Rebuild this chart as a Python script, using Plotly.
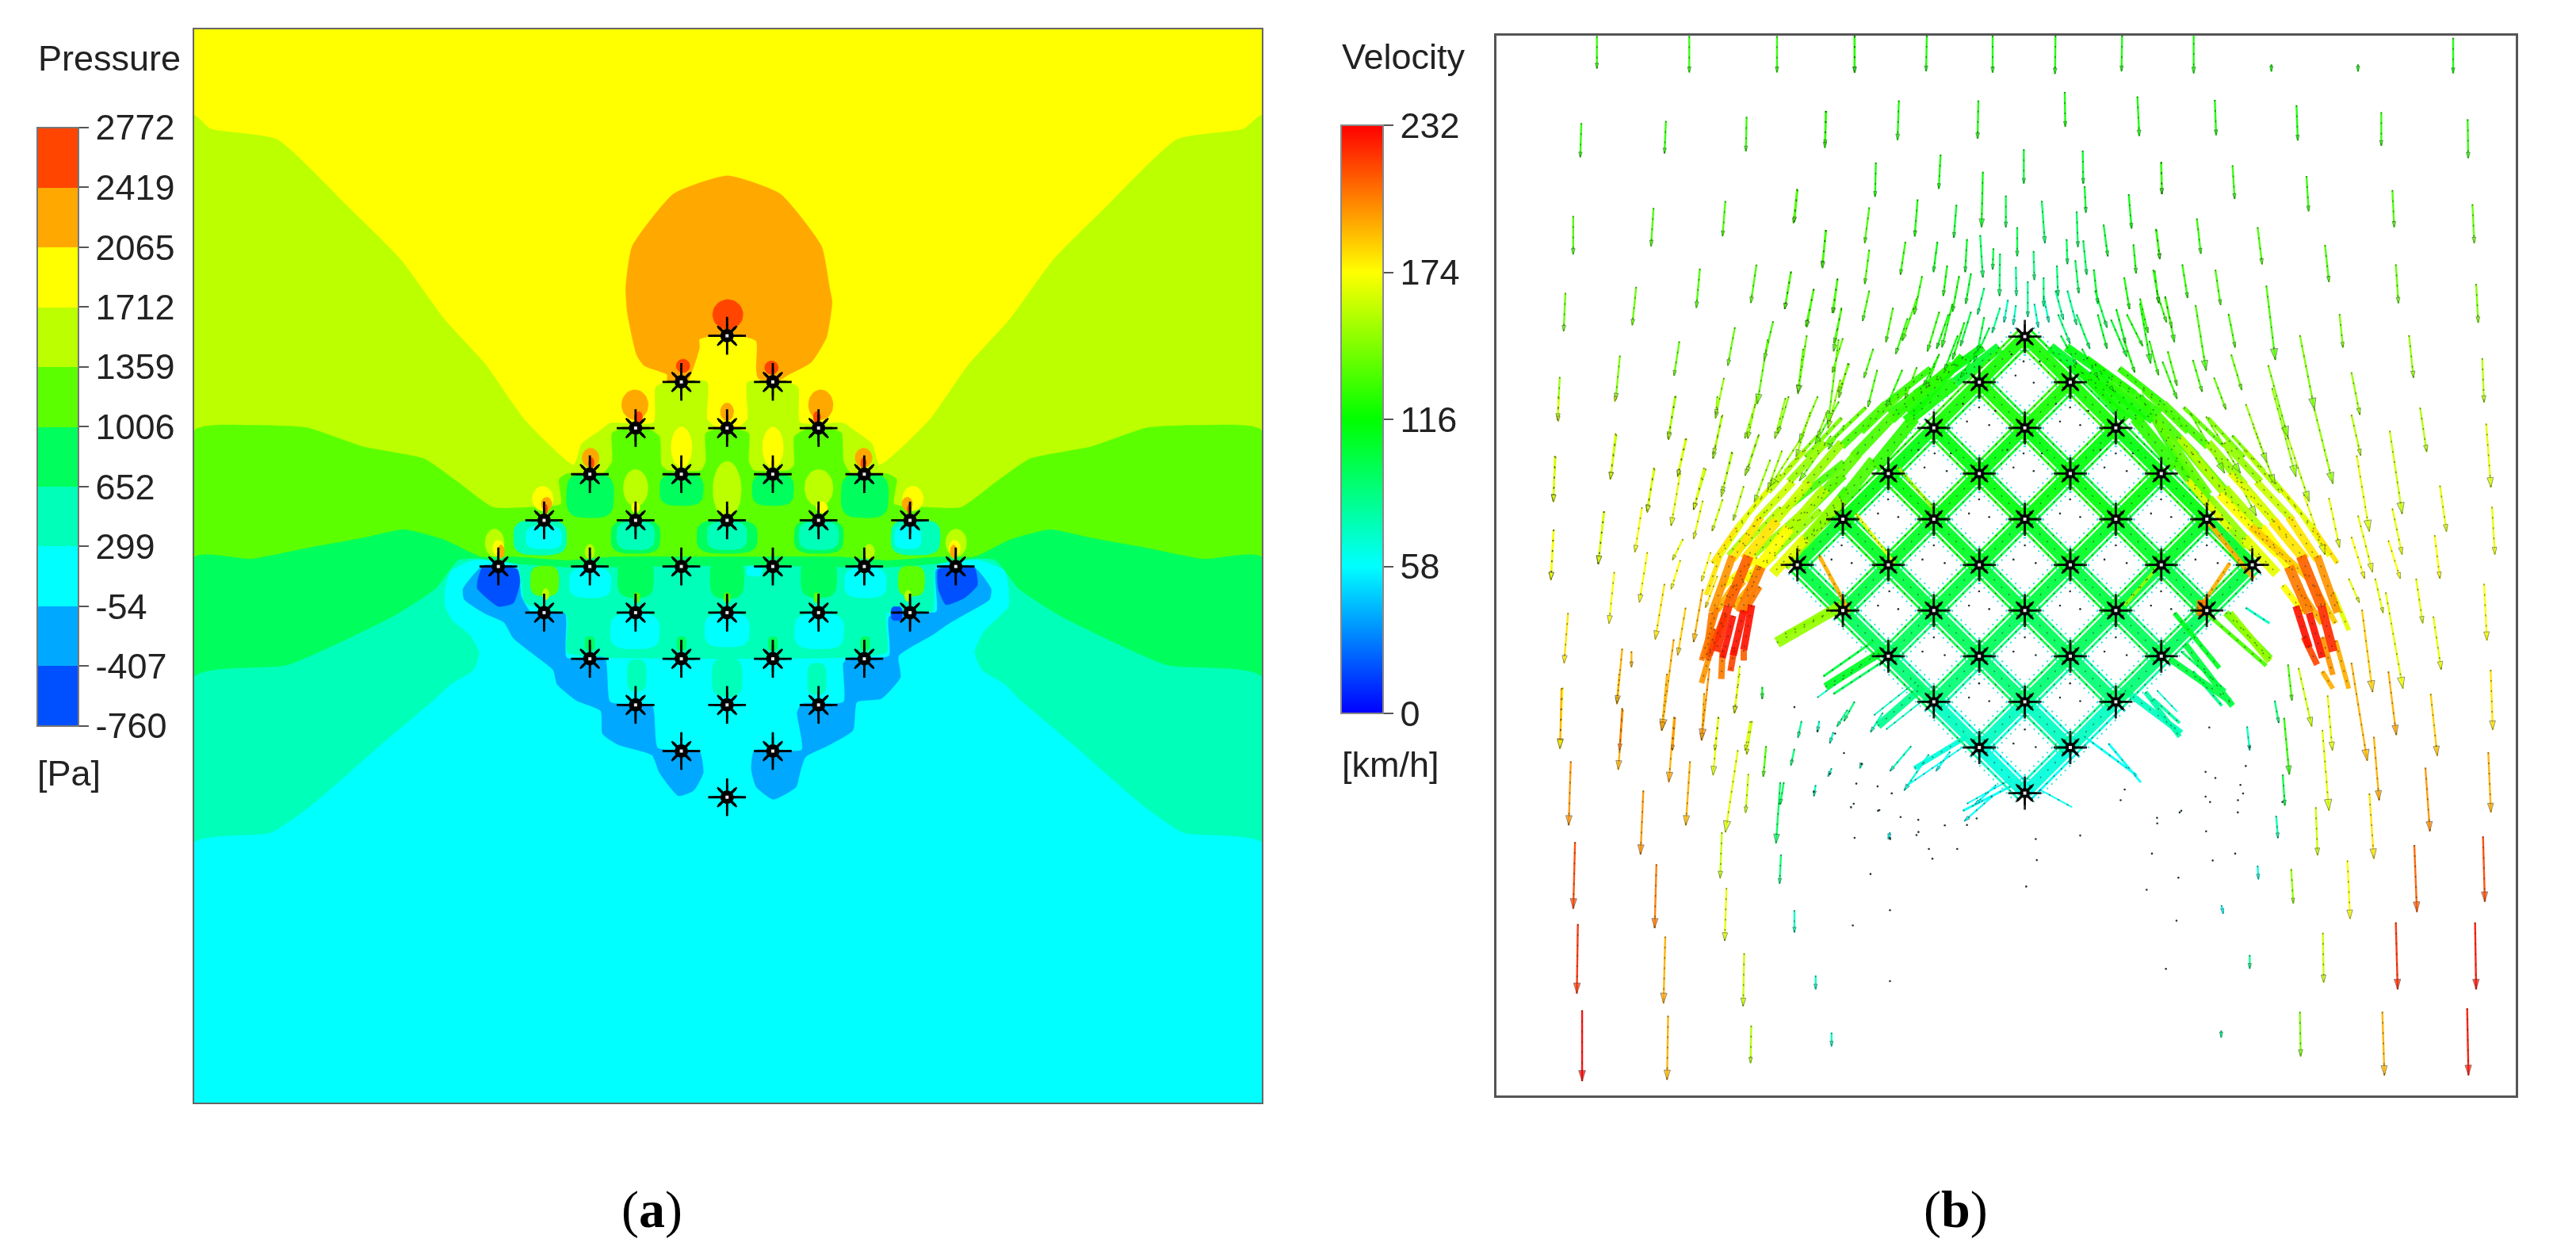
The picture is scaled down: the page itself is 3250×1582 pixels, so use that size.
import math
import plotly.graph_objects as go
from plotly.colors import sample_colorscale

W, H = 3250, 1582

# ---- panel (a): legend
PRESSURE_TICKS = [-760, -407, -54, 299, 652, 1006, 1359, 1712, 2065, 2419, 2772]
BLUE, SKY, CYAN, TEAL, SPRING = "#0050FF", "#00A8FF", "#00FFFF", "#00FFB9", "#00FF5C"
GREEN, LIME, YELLOW, ORANGE, RED = "#5CFF00", "#BBFF00", "#FFFF00", "#FFA800", "#FF4500"
PRESSURE_BANDS = [BLUE, SKY, CYAN, TEAL, SPRING, GREEN, LIME, YELLOW, ORANGE, RED]

# ---- panel (a): contour outlines, in crop units
FRAME_U = [-637, 2178]
FRAME_V = [-701, 2332]
LIME_EDGE = [(-637,-458),(-595,-420),(-419,-390),(-233,-201),(-94,-52),(23,119),(130,245),(236,405),(364,530),(385,470),
             (437,430),(460,412),(575,410),(580,310),(610,296),(715,296),(715,400),(740,425),(796,425),(822,400),(822,296),
             (925,296),(955,310),(960,410),(1075,412),(1100,430),(1150,470),(1170,530),(1300,405),(1406,245),(1513,119),
             (1630,-52),(1769,-201),(1955,-390),(2131,-420),(2178,-458),(2178,2332),(-637,2332)]
GREEN_EDGE = [(-637,433),(-488,418),(-339,425),(-190,479),(-30,513),(55,576),(151,650),(243,650),(330,640),(325,570),
              (345,555),(440,555),(465,520),(465,440),(490,428),(565,430),(590,450),(595,530),(610,545),(700,545),(712,520),
              (712,440),(740,430),(796,430),(825,440),(825,520),(838,545),(930,545),(945,530),(945,450),(975,430),(1050,430),
              (1070,440),(1075,520),(1095,555),(1190,555),(1215,570),(1208,640),(1295,650),(1385,650),(1480,576),(1566,513),
              (1726,479),(1875,425),(2024,418),(2178,433),(2178,2332),(-637,2332)]
SPRING_EDGE = [(-637,791),(-488,796),(-339,765),(-190,736),(-83,713),(23,742),(120,790),(205,790),(345,800),(470,790),
               (800,790),(1060,790),(1190,800),(1330,790),(1420,790),(1513,742),(1619,713),(1726,736),(1875,765),(2024,796),
               (2178,791),(2178,2332),(-637,2332)]
TEAL_EDGE = [(-637,1129),(-391,1096),(-110,957),(0,880),(60,800),(110,795),(215,810),(345,820),(800,815),(1190,820),
             (1320,810),(1426,795),(1476,800),(1536,880),(1646,957),(1927,1096),(2178,1129),(2178,2332),(-637,2332)]
CYAN_EDGE = [(-637,1598),(-435,1570),(-326,1491),(-153,1329),(0,1190),(40,1150),(100,1110),(115,1060),(90,1010),(45,970),
             (25,930),(25,880),(40,830),(100,800),(215,815),(235,920),(345,960),(345,1060),(445,1075),(1090,1075),(1190,1060),
             (1190,950),(1310,945),(1320,815),(1435,800),(1500,830),(1510,880),(1510,930),(1445,1000),(1420,1060),(1440,1110),
             (1500,1150),(1536,1190),(1689,1329),(1862,1491),(1971,1570),(2178,1598),(2178,2332),(-637,2332)]
SKY_LEFT = [(72,880),(75,910),(130,950),(180,975),(205,1020),(270,1075),(310,1110),(320,1150),(370,1195),(435,1225),(440,1290),
            (480,1320),(570,1350),(590,1400),(640,1465),(680,1450),(705,1400),(695,1340),(585,1330),(570,1210),(460,1200),
            (445,1075),(345,1075),(340,950),(250,945),(225,900),(215,825),(125,815)]
SKY_RIGHT = [(1464,880),(1460,910),(1390,955),(1350,980),(1310,1010),(1220,1070),(1225,1130),(1175,1190),(1110,1200),(1100,1280),
             (1040,1320),(975,1355),(960,1400),(950,1440),(890,1475),(845,1440),(832,1390),(840,1337),(965,1335),(953,1230),
             (965,1205),(1075,1200),(1075,1090),(1090,1075),(1195,1070),(1195,960),(1250,945),(1320,945),(1320,825),(1420,820)]
BLUE_LEFT = [(110,860),(125,815),(215,825),(222,860),(205,920),(165,930),(110,880)]
BLUE_RIGHT = [(1325,825),(1420,820),(1428,870),(1395,905),(1345,925),(1325,880)]
ORANGE_EDGE = [(769,-287),(627,-236),(518,-88),(501,28),(505,100),(530,220),(550,250),(610,275),(610,300),(660,300),(695,200),
               (695,175),(730,165),(805,165),(845,180),(845,260),(850,285),(890,300),(930,275),(990,240),(1030,170),(1045,70),
               (1038,28),(1017,-88),(908,-236)]

# patches: centre u, centre v, width, height, colour
PATCHES = [
    (648,480,55,115,YELLOW),(889,480,55,115,YELLOW),(527,595,65,105,LIME),(1010,595,75,105,LIME),(768,600,75,160,LIME),
    (407,617,125,125,SPRING),(648,600,115,90,SPRING),(889,600,110,90,SPRING),(1131,617,125,125,SPRING),
    (527,733,130,95,SPRING),(768,733,160,95,SPRING),(1010,733,130,95,SPRING),
    (275,735,140,100,TEAL),(1265,735,130,100,TEAL),(527,730,100,80,TEAL),(768,730,105,80,TEAL),(1010,730,105,80,TEAL),
    (285,735,95,65,CYAN),(1245,735,70,65,CYAN),(407,863,110,85,CYAN),(1133,863,110,85,CYAN),(840,830,40,30,CYAN),
    (287,858,75,85,GREEN),(1254,858,70,85,GREEN),(527,850,95,110,SPRING),(768,850,90,115,SPRING),(1010,850,95,110,SPRING),
    (525,1000,130,100,CYAN),(768,997,118,95,CYAN),(1011,1000,130,100,CYAN),
    (768,1130,80,110,TEAL),(530,1125,50,90,TEAL),(1005,1135,50,90,TEAL),
    (1215,950,30,40,BLUE),
    (770,105,80,85,RED),(652,250,36,38,RED),(885,255,36,38,RED),
    (525,360,70,85,ORANGE),(1015,360,65,85,ORANGE),(535,395,20,32,RED),(1005,395,20,32,RED),
    (768,380,35,50,ORANGE),(408,510,45,55,ORANGE),(1128,510,45,55,ORANGE),(410,525,15,32,RED),(1128,525,15,32,RED),
    (282,625,55,70,YELLOW),(1258,625,55,70,YELLOW),(292,640,28,38,ORANGE),(1243,640,28,38,ORANGE),(290,655,10,28,RED),(1248,655,10,28,RED),
    (155,750,50,78,LIME),(1372,750,55,78,LIME),(165,765,30,45,YELLOW),(1368,765,30,45,YELLOW),(172,775,18,38,ORANGE),(1365,775,18,38,ORANGE),
    (406,775,25,42,LIME),(1143,775,28,42,LIME),(527,650,22,30,YELLOW),(1018,650,30,32,YELLOW),
    (290,895,18,32,LIME),(1245,900,18,32,LIME),(530,905,16,28,GREEN),(768,905,16,28,GREEN),(1005,905,16,28,GREEN),
    (406,1035,25,40,SPRING),(648,1035,25,40,SPRING),(889,1035,25,40,SPRING),(1132,1035,25,40,SPRING),
]

# cylinders: lattice column and row of each one
CYL_COL = [0, -1,1, -2,0,2, -3,-1,1,3, -4,-2,0,2,4, -5,-3,-1,1,3,5, -4,-2,0,2,4, -3,-1,1,3, -2,0,2, -1,1, 0]
CYL_ROW = [0, 1,1, 2,2,2, 3,3,3,3, 4,4,4,4,4, 5,5,5,5,5,5, 6,6,6,6,6, 7,7,7,7, 8,8,8, 9,9, 10]

# ---- panel (b): legend
SPEED_TICKS = [0, 58, 116, 174, 232]
JET = [[0, "#0000FF"], [0.25, "#00FFFF"], [0.5, "#00FF00"], [0.75, "#FFFF00"], [1, "#FF0000"]]

TOP_LEFT = [(817,50,817,130,125),(1078,50,1078,140,125),(1326,50,1326,140,125),(1545,50,1545,140,125),
    (773,265,770,350,125),(1012,260,1008,340,125),(1240,250,1238,335,125),(1465,235,1462,320,125),
    (750,495,750,590,130),(977,475,970,570,130),(1180,458,1172,545,130),(1384,430,1375,510,130),
    (728,685,723,780,140),(928,670,917,765,140),(1108,625,1098,722,135),(1268,615,1252,710,135),(1366,632,1348,725,135),(1465,530,1453,620,130),
    (712,893,706,1000,150),(882,840,870,950,145),(1050,805,1035,890,140),(1207,770,1187,865,140),(1315,755,1290,850,135),(1430,675,1410,770,132),
    (1497,650,1485,735,130),(1508,725,1487,810,130),(700,1090,693,1200,155),(872,1035,855,1145,150),(1040,940,1018,1045,150),(1176,895,1152,995,150),
    (1300,800,1270,960,140),(1410,790,1385,935,140),(1500,800,1470,1010,140),(1170,990,1145,1095,150),(1070,1045,1045,1140,155),(1265,960,1235,1045,150),
    (1350,945,1320,1045,148),(1470,975,1440,1040,145),(695,1270,687,1395,160),(838,1225,820,1355,155),(980,1120,958,1225,155),(1125,1120,1090,1220,158),
    (1200,1080,1170,1180,155),(1275,1035,1240,1130,152),(1340,1075,1300,1170,150),(1420,980,1380,1090,150),(1505,900,1470,1020,148),(1530,860,1500,930,145)]
TOP_CENTRE = [(270,45,270,185,120),(543,45,540,180,118),(792,45,792,185,118),(1030,45,1028,190,120),(1282,45,1280,180,122),
    (160,330,157,470,125),(437,290,432,440,122),(738,290,735,435,118),(1065,258,1067,390,118),(1340,275,1347,425,120),
    (350,525,347,655,122),(595,495,588,625,118),(755,560,750,770,112),(910,475,910,605,105),(1133,480,1135,605,110),(1430,525,1433,645,128),
    (52,625,38,755,130),(508,665,497,805,118),(655,685,645,810,110),(842,650,842,770,100),(978,670,990,830,95),(1140,615,1145,715,105),(1307,645,1318,775,115),(1110,710,1115,845,95),
    (160,780,148,925,128),(325,695,308,830,130),(462,825,443,950,125),(583,825,568,940,115),(695,815,688,940,105),(745,800,755,960,95),(795,850,792,930,100),(885,770,885,880,100),
    (947,860,950,970,90),(1072,815,1075,910,95),(1135,820,1148,950,95),(1212,760,1228,880,110),(1325,835,1335,945,120),(1412,780,1425,890,125),
    (28,940,5,1080,135),(205,965,185,1095,130),(325,855,308,985,130),(115,1005,85,1145,135),(220,1075,190,1240,135),(325,1010,300,1125,130),(415,1075,388,1205,130),(525,955,495,1100,128),
    (620,915,605,1030,118),(665,955,640,1090,118),(710,945,690,1060,110),(820,870,818,1030,95),(880,920,882,1030,85),(925,975,925,1110,85),(985,960,985,1070,88),(1035,915,1040,1030,92),
    (1105,895,1118,1020,95),(1175,930,1190,1060,105),(1290,960,1310,1080,118),(1405,935,1420,1055,122),(1445,1035,1470,1150,130),
    (75,1230,55,1395,140),(225,1190,185,1320,138),(340,1230,305,1340,135),(245,1285,210,1415,140),(355,1310,320,1450,135),(505,1040,450,1200,130),(470,1115,425,1250,128),(590,1090,545,1240,125),
    (640,1060,600,1225,122),(505,1300,460,1420,130),(585,1260,540,1380,128),(685,1130,640,1270,118),(760,1110,735,1240,100),(1190,1100,1225,1230,110),(1260,1080,1295,1210,115),
    (1350,1040,1380,1170,125),(1415,1020,1450,1130,128),(1455,1240,1490,1370,132),(1385,1200,1420,1330,128),(1290,1200,1330,1320,122),
    (880,1065,870,1140,70),(850,1045,835,1130,75),(820,1075,790,1170,85),(760,1000,735,1100,90),(710,1090,670,1220,100),(660,1180,610,1310,115),(780,1150,720,1280,100),(590,1250,530,1370,120),
    (450,1310,390,1450,125),(730,1240,670,1340,115),(625,1100,580,1230,118),(950,1060,965,1150,70),(985,1030,1005,1130,75),(1030,1010,1060,1120,82),(1075,1010,1110,1140,85),(1110,1100,1160,1230,95),
    (1050,1180,1110,1290,100),(1180,1010,1225,1150,100),(1240,1120,1300,1260,110),(1300,1100,1360,1220,120),(1130,1230,1190,1340,110),(1180,1290,1250,1390,118),(1040,1100,1085,1210,88)]
TOP_CENTRE_BANDS = [(680,1260,480,1480,120,12),(640,1290,410,1500,125,10),(1160,1320,1400,1500,120,12),(1100,1290,1300,1500,118,10)]
TOP_RIGHT = [(203,25,203,140,120),(497,115,497,135,118),(825,115,825,135,118),(1185,40,1185,140,118),
    (283,215,288,315,120),(592,230,597,330,122),(913,250,913,345,125),(1240,270,1242,380,128),
    (80,390,82,480,125),(350,400,358,495,125),(630,430,638,530,128),(955,470,962,575,135),(1258,510,1265,620,140),
    (60,580,75,665,125),(215,550,230,650,125),(445,575,462,680,130),(700,625,715,730,135),(968,680,978,790,140),(1272,735,1280,845,145),
    (50,695,72,790,125),(160,680,180,775,125),(285,695,305,795,130),(478,740,512,950,135),(755,820,768,915,145),(1018,880,1035,1000,150),(1295,945,1302,1070,155),
    (95,770,130,900,125),(210,795,250,980,130),(335,820,360,915,130),(605,880,660,1090,142),(800,985,832,1105,150),(1060,1085,1085,1210,155),(1310,1130,1328,1310,165),
    (0,790,40,960,120),(85,955,140,1060,125),(200,950,235,1040,135),(345,935,385,1035,140),(485,965,560,1170,145),(800,1105,835,1220,155),(945,1150,992,1385,160),(1135,1305,1160,1435,165),(1332,1365,1343,1500,170),
    (280,1000,325,1090,140),(400,1075,480,1240,148),(660,1090,730,1300,150),(820,1220,868,1435,165),(955,1370,992,1500,170),(1115,1445,1135,1568,172),
    (500,1030,590,1280,150),(560,1170,640,1350,155),(715,1340,755,1480,165),(825,1390,880,1550,170),(620,1330,700,1500,168),(800,1450,850,1568,172),(940,1460,985,1568,172),
    (330,1230,440,1390,150),(430,1140,510,1300,150),(250,1110,380,1270,142),(190,1100,320,1270,140)]
TOP_RIGHT_BANDS = [(0,1050,180,1280,125,8),(60,1120,260,1330,140,10),(150,1170,400,1400,155,10),(180,1290,340,1430,165,8),
    (300,1330,520,1500,175,10),(420,1420,640,1568,185,9),(250,1400,430,1568,190,6),(340,1270,560,1450,170,7)]
LOW_RIGHT = [(790,0,830,70,165),(890,0,920,100,165),(930,40,995,320,170),(840,90,880,330,185),(800,245,860,530,190),(940,270,970,455,195),(885,460,905,645,195),
    (1100,335,1125,515,188),(1045,0,1070,130,165),(1110,110,1140,265,170),(1302,15,1313,180,172),(1327,265,1335,440,180),(1318,505,1328,680,192),(1080,550,1097,735,200),
    (868,625,885,815,180),(1038,775,1048,970,212),(1298,750,1305,940,215),(785,820,795,990,172),(665,665,672,805,160),(690,440,715,675,165),(710,340,728,500,170),(572,845,580,945,150),
    (692,1030,695,1175,160),(968,1000,975,1195,222),(1268,1000,1272,1195,228),(605,1260,608,1390,145),(917,1260,925,1445,190),(1238,1250,1243,1445,226),(415,1095,415,1135,85),(307,1315,307,1335,85),
    (545,405,565,570,125),(510,355,525,420,90),(540,570,548,660,100),(515,690,522,755,80),(560,250,575,355,135),(600,260,650,430,160),(405,430,415,500,70),(445,835,448,875,65),(308,950,315,975,60)]
LOW_RIGHT_BANDS = [(540,20,620,100,175,8),(600,30,690,130,190,8),(660,20,740,130,185,7),(730,40,790,150,170,6),(590,80,640,200,225,9),(640,100,690,230,228,9),(620,170,670,250,215,8),
    (690,170,730,280,200,7),(690,270,730,320,190,6),(740,180,790,320,190,6),(130,100,300,260,110,6),(340,100,490,240,150,9),(400,85,490,130,70,3),(170,190,350,370,100,8),(200,270,310,370,85,4),
    (20,330,150,460,80,6),(50,350,150,420,80,4),(215,85,255,85,205,20)]
MID_LEFT = [(258,0,258,95,165),(475,0,472,20,165),(245,225,240,400,170),(475,140,455,315,168),(240,505,230,695,172),(430,435,410,635,170),(620,270,595,440,165),(740,160,710,300,165),(880,70,845,220,155),
    (700,0,675,165,155),(1010,0,975,160,150),(860,0,855,70,150),(1015,150,965,300,150),(915,210,875,380,155),(810,270,770,430,165),(575,420,548,590,172),(720,290,685,490,165),(595,590,565,780,172),
    (470,665,450,860,172),(805,395,770,540,165),(880,390,840,510,160),(960,340,920,470,155),(1060,240,1000,400,150),(1130,0,1090,140,145),(1240,0,1170,170,142),(1320,20,1230,180,135),(1170,170,1060,340,148),
    (1290,150,1170,320,140),(1340,110,1280,200,130),(730,540,690,620,170),(720,620,685,730,172),(660,710,625,920,178),(740,800,710,980,185),(805,730,770,930,190),(835,590,800,700,175),(860,680,815,800,180),
    (295,820,280,1010,178),(500,955,480,1165,190),(535,965,535,1025,190),(270,1105,265,1330,195),(695,920,650,1265,195),(830,1030,800,1300,198),(500,1180,490,1340,205),(865,1215,850,1340,170),(700,1215,690,1340,200),
    (945,1020,925,1200,165),(985,1230,965,1340,165),(1030,1100,1030,1145,110)]
MID_LEFT_BANDS = [(1080,600,970,700,170,8),(1050,620,920,720,172,8),(1010,610,880,720,175,8),(1020,720,960,820,205,8),(1000,700,920,800,195,8),(960,700,880,790,190,8),(920,720,860,810,190,8),
    (990,790,960,960,228,9),(960,810,920,980,228,9),(920,830,880,990,225,8),(890,820,830,980,215,8),(860,800,800,1000,205,7),(960,960,960,1000,210,8),(925,950,910,1040,215,8),(880,960,875,1070,205,8),
    (830,980,800,1085,200,7),(850,880,825,1000,210,7),(1340,300,1120,520,135,9),(1340,250,1100,440,135,9),(1350,350,1180,560,128,9),(1250,430,1070,600,150,8),(1180,440,1000,600,150,8),
    (1100,420,940,590,155,6),(1050,430,900,600,158,5),(1220,520,1120,650,150,8),(1330,430,1210,530,115,7)]
LOW_LEFT = [(205,50,197,270,172),(365,0,358,105,185),(375,130,362,345,192),(500,0,485,205,195),(605,70,598,240,195),(520,155,505,390,195),(645,155,630,365,165),(740,170,725,290,160),(705,0,690,140,170),
    (565,315,553,545,190),(228,315,222,545,198),(433,420,425,650,200),(700,275,665,570,165),(780,260,772,370,130),(730,360,722,500,160),(820,390,808,610,95),(655,570,650,735,160),(240,605,235,845,215),
    (470,685,465,915,205),(668,770,663,960,165),(822,650,818,755,90),(860,850,860,930,75),(248,900,245,1150,220),(495,945,490,1185,195),(718,1005,715,1195,160),(920,1085,920,1135,70),(260,1210,260,1465,232),
    (503,1230,500,1460,190),(738,1265,736,1400,155),(965,1290,965,1340,70),(860,270,850,330,90),(830,390,820,470,95),(965,340,955,370,70),(1130,570,1125,595,60),(920,400,915,440,75),(1050,320,1045,340,75),
    (970,210,960,250,75),(880,170,870,230,85),(930,170,925,210,75),(1010,130,980,190,85),(1110,140,1075,210,75),(1240,290,1170,420,65),(1300,280,1260,350,62),(1190,260,1130,350,70),(1420,440,1340,530,58),(1430,400,1370,470,58),(1030,100,1000,170,90)]
# streak bundles inside and below the array
CORE_BANDS = [(300,1090,440,990,110,10),(295,1060,420,960,100,3),(320,1110,440,1020,95,3),(280,1120,400,1020,75,2),(430,1200,540,1090,85,10),(420,1170,530,1070,75,2),(450,1210,550,1120,75,2),
    (520,1320,650,1230,65,6),(500,1370,640,1260,60,2),(640,1440,760,1370,58,3),(650,1420,760,1350,58,2),(1150,1010,1300,1130,100,8),(1180,990,1290,1100,95,3),(1040,1100,1180,1220,72,8),
    (1000,1250,1080,1360,60,3),(940,1230,1070,1340,60,3),(830,1380,910,1430,58,2),(1120,1100,1170,1160,68,2),(180,965,340,860,150,14),(200,940,310,880,145,6),(1290,880,1400,1010,140,9),
    (1240,880,1390,1030,130,5),(285,720,360,880,190,5),(1300,740,1230,860,195,5),(375,600,470,740,165,4),(480,470,570,590,150,4),(1130,740,1040,860,150,4)]
# the two shoulders over the array: stacked streaks, nearest the array first
SHOULDER_LEFT = [(730,130,620,230,110,13),(620,230,500,340,118,15),(520,330,420,470,125,15),(420,450,330,580,135,15),(340,560,240,690,150,15),(250,670,170,770,165,13),
    (690,130,580,220,115,11),(580,220,460,320,125,13),(470,320,370,440,132,13),(380,430,290,550,140,13),(300,530,200,660,155,14),(210,640,130,760,175,14),(140,750,90,880,205,13),
    (560,190,450,290,125,8),(450,290,340,410,135,10),(340,400,250,520,148,11),(260,510,170,630,160,11),(180,620,100,730,178,13),(110,720,60,860,210,13),(60,860,30,990,222,11),
    (400,300,300,410,138,5),(300,400,210,510,150,9),(220,510,130,620,162,9),(140,610,70,730,178,10),(70,720,20,880,200,10),(20,880,5,1010,205,9),
    (280,380,200,480,145,4),(190,490,110,600,155,6),(110,600,40,720,170,6),(40,720,5,830,180,6),
    (640,160,520,260,122,7),(500,250,390,370,130,7),(340,330,250,440,142,5),(250,420,160,540,155,6),(160,530,80,640,165,6),(80,640,20,740,178,6)]
SHOULDER_RIGHT = [(856,130,966,230,110,13),(966,230,1086,340,118,15),(1066,330,1166,470,125,15),(1166,450,1256,580,135,15),(1246,560,1346,690,150,15),(1336,670,1416,770,165,13),
    (896,130,1006,220,115,11),(1006,220,1126,320,125,13),(1116,320,1216,440,132,13),(1206,430,1296,550,140,13),(1286,530,1386,660,155,14),(1376,640,1456,760,175,14),(1446,750,1496,880,205,13),
    (1026,190,1136,290,125,8),(1136,290,1246,410,135,10),(1246,400,1336,520,148,11),(1326,510,1416,630,160,11),(1406,620,1486,730,178,13),(1476,720,1526,860,210,13),(1526,860,1556,990,222,11),
    (1186,300,1286,410,138,5),(1286,400,1376,510,150,9),(1366,510,1456,620,162,9),(1446,610,1516,730,178,10),(1516,720,1566,880,200,10),
    (1306,380,1386,480,145,4),(1396,490,1476,600,155,6),(1476,600,1546,720,170,6),
    (946,160,1066,260,122,7),(1086,250,1196,370,130,7),(1246,330,1336,440,142,5),(1336,420,1426,540,155,6),(1426,530,1506,640,165,6),(1506,640,1566,740,178,6)]
# speed along the lattice diagonals, one value per row of cylinders
LINK_SPEED = [120, 118, 115, 112, 108, 104, 96, 88, 75, 68]
CORE_DOTS = [(790,170),(770,210),(815,230),(760,150),(830,170),(680,300),(650,340),(705,350),(640,290),(720,310),(905,300),(880,340),(930,350),(870,290),(950,310),(570,430),(545,470),(600,480),(530,420),(610,430),
    (790,430),(765,470),(815,480),(750,420),(835,430),(1018,430),(990,470),(1045,480),(980,420),(1060,430),(455,560),(430,600),(480,610),(680,560),(655,600),(705,610),(905,560),(880,600),(930,610),(1130,560),(1105,600),(1155,610),
    (340,690),(315,730),(365,740),(568,690),(540,730),(595,740),(793,690),(765,730),(820,740),(1018,690),(990,730),(1045,740),(1243,690),(1215,730),(1270,740),(458,820),(430,860),(480,870),(680,820),(655,860),(705,870),
    (905,820),(880,860),(930,870),(1130,820),(1105,860),(1155,870),(568,950),(540,990),(595,1000),(793,950),(765,990),(820,1000),(1018,950),(990,990),(1045,1000),(680,1080),(655,1120),(705,1130),(905,1080),(880,1120),(930,1130),
    (793,1210),(765,1250),(820,1260),(1040,1380),(1120,1460),(1180,1440),(1240,1400),(1320,1410),(1030,1410),(930,1510),(820,1520),(650,1480),(530,1500),(370,1420),(430,1440),(460,1520),(1240,1330),(1430,1415)]
LOW_LEFT_DOTS = [(1030,590),(1130,590),(1205,580),(1240,630),(1320,630),(1250,665),(1515,765),(1545,670),(1130,850),(1025,905),(1075,720),(1130,1105),(1020,480),(1100,490),(1160,515),(1210,525),(1285,545),(1375,520),
    (1135,430),(1095,405),(1035,395),(915,425),(960,360),(1050,325),(1000,285),(975,215),(925,205),(860,120)]
LOW_RIGHT_DOTS = [(262,433),(285,580),(265,650),(150,680),(65,712),(250,735),(360,800),(275,820),(45,800),(145,870),(25,905),(138,995),(98,1135),(380,600),(390,625),(370,680),(400,545),(415,490)]


def crop(rows, x0, y0, sx, sy):
    # zoomed-crop readings to page pixels, the unit of the right panel's axes
    return [(x0 + r[0] / sx, y0 + r[1] / sy, x0 + r[2] / sx, y0 + r[3] / sy) + tuple(r[4:]) for r in rows]

def crop_dots(rows, x0, y0, sx, sy):
    return [(x0 + a / sx, y0 + b / sy) for a, b in rows]

def px_x(x): return x / W
def px_y(y): return 1 - y / H

fig = go.Figure()
AX_A = dict(xaxis="x", yaxis="y")
AX_B = dict(xaxis="x2", yaxis="y2")


def poly(points, color):
    fig.add_trace(go.Scatter(x=[p[0] for p in points] + [points[0][0]], y=[p[1] for p in points] + [points[0][1]],
                             mode="lines", fill="toself", fillcolor=color,
                             line=dict(color=color, width=0.5, shape="spline", smoothing=0.5),
                             hoverinfo="skip", showlegend=False, **AX_A))

def patch(cx, cy, w, h, color):
    # field patches are squarish, the hot tips over the cylinders are round
    power = 1.0 if color in (RED, ORANGE, YELLOW, LIME) else 0.6
    xs, ys = [], []
    for i in range(36):
        t = 2 * math.pi * i / 36
        c, s = math.cos(t), math.sin(t)
        xs.append(cx + w / 2 * math.copysign(abs(c) ** power, c))
        ys.append(cy + h / 2 * math.copysign(abs(s) ** power, s))
    fig.add_trace(go.Scatter(x=xs + xs[:1], y=ys + ys[:1], mode="lines", fill="toself", fillcolor=color,
                             line=dict(color=color, width=0.5), hoverinfo="skip", showlegend=False, **AX_A))

def stars(xs, ys, axes, spoke, centre, opacity):
    for symbol, size, width in [("cross-thin-open", spoke, 2.8), ("asterisk-open", spoke * 0.85, 2.4), ("x-thin-open", spoke * 0.62, 3.4)]:
        fig.add_trace(go.Scatter(x=xs, y=ys, mode="markers", hoverinfo="skip", showlegend=False, opacity=opacity,
                                 marker=dict(symbol=symbol, size=size, color="black", line=dict(color="black", width=width)), **axes))
    fig.add_trace(go.Scatter(x=xs, y=ys, mode="markers", hoverinfo="skip", showlegend=False, opacity=opacity,
                             marker=dict(symbol="circle", size=centre, color="black", line=dict(width=0)), **axes))
    fig.add_trace(go.Scatter(x=xs, y=ys, mode="markers", hoverinfo="skip", showlegend=False,
                             marker=dict(symbol="square", size=4, color="#E8E8E8", line=dict(width=0)), **axes))


# ---- panel (a)
fig.add_trace(go.Scatter(x=[FRAME_U[0], FRAME_U[1], FRAME_U[1], FRAME_U[0], FRAME_U[0]],
                         y=[FRAME_V[0], FRAME_V[0], FRAME_V[1], FRAME_V[1], FRAME_V[0]],
                         mode="lines", fill="toself", fillcolor=YELLOW, line=dict(width=0), hoverinfo="skip", showlegend=False, **AX_A))
poly(ORANGE_EDGE, ORANGE)
for edge, col in [(LIME_EDGE, LIME), (GREEN_EDGE, GREEN), (SPRING_EDGE, SPRING), (TEAL_EDGE, TEAL), (CYAN_EDGE, CYAN),
                  (SKY_LEFT, SKY), (SKY_RIGHT, SKY), (BLUE_LEFT, BLUE), (BLUE_RIGHT, BLUE)]:
    poly(edge, col)
for p in PATCHES:
    patch(*p)
stars([768 + 120.6 * c for c in CYL_COL], [165 + 130.4 * r for r in CYL_ROW], AX_A, 34, 17, 1)

# pressure colour bar
stepped = []
for i, c in enumerate(PRESSURE_BANDS):
    stepped += [[i / 10, c], [(i + 1) / 10, c]]
fig.add_trace(go.Scatter(x=[None] * 11, y=[None] * 11, mode="markers", hoverinfo="skip", showlegend=False,
                         marker=dict(color=PRESSURE_TICKS, coloraxis="coloraxis"), **AX_A))

# ---- panel (b)
links = []
nodes = sorted(set(zip(CYL_COL, CYL_ROW)))
for c, r in nodes:
    for dc in (-1, 1):
        if (c + dc, r + 1) in nodes:
            links.append((c, r, c + dc, r + 1, LINK_SPEED[r]))
LAT_X, LAT_Y, LAT_PX, LAT_PY = 2554.6, 424.6, 57.4, 57.6

arrows = (crop(TOP_LEFT, 1650, 20, 2.24, 1.96) + crop(TOP_CENTRE, 2250, 30, 3, 3) + crop(TOP_RIGHT, 2700, 30, 3, 2.24)
          + crop(LOW_RIGHT, 2700, 730, 3, 2.306) + crop(MID_LEFT, 1880, 500, 3, 3) + crop(LOW_LEFT, 1880, 850, 2.24, 2.85))
bands = (crop(SHOULDER_LEFT, 2150, 380, 1.96, 2.24) + crop(SHOULDER_RIGHT, 2150, 380, 1.96, 2.24)
         + crop(TOP_CENTRE_BANDS, 2250, 30, 3, 3) + crop(TOP_RIGHT_BANDS, 2700, 30, 3, 2.24) + crop(LOW_RIGHT_BANDS, 2700, 730, 3, 2.306)
         + crop(MID_LEFT_BANDS, 1880, 500, 3, 3) + crop(CORE_BANDS, 2150, 380, 1.96, 2.24))

# link bundles: a core streak with thinner ones beside it, cyan speckle at the edge of the wake
sx, sy = [], []
for c0, r0, c1, r1, v in links:
    x0, y0 = LAT_X + c0 * LAT_PX, LAT_Y + r0 * LAT_PY
    x1, y1 = LAT_X + c1 * LAT_PX, LAT_Y + r1 * LAT_PY
    nx, ny = (y1 - y0), -(x1 - x0)
    n = math.hypot(nx, ny)
    nx, ny = nx / n, ny / n
    bands.append((x0, y0, x1, y1, v, 15))
    for off, dv, wid in [(-11, 6, 3), (11, -8, 3)]:
        bands.append((x0 + nx * off, y0 + ny * off, x1 + nx * off, y1 + ny * off, v + dv, wid))
    for off in (-16, 16):
        sx.extend([x0 + nx * off, x1 + nx * off, None])
        sy.extend([y0 + ny * off, y1 + ny * off, None])
fig.add_trace(go.Scatter(x=sx, y=sy, mode="lines", line=dict(color="#30E0E0", width=2, dash="2px,6px"),
                         hoverinfo="skip", showlegend=False, **AX_B))

groups = {}
for x0, y0, x1, y1, v, wid in [a + (2.4,) for a in arrows] + bands:
    key = (round(v / 6) * 6, wid)
    g = groups.setdefault(key, ([], []))
    g[0].extend([x0, x1, None])
    g[1].extend([y0, y1, None])
for (v, wid), (xs, ys) in sorted(groups.items(), key=lambda kv: kv[0][0]):
    col = sample_colorscale(JET, min(v, 232) / 232)[0]
    fig.add_trace(go.Scatter(x=xs, y=ys, mode="lines", line=dict(color=col, width=wid), opacity=0.92,
                             hoverinfo="skip", showlegend=False, **AX_B))

# dark flecks that run along the streaks
fx, fy = [], []
for x0, y0, x1, y1, *_ in bands + arrows:
    fx.extend([x0, x1, None])
    fy.extend([y0, y1, None])
fig.add_trace(go.Scatter(x=fx, y=fy, mode="lines", line=dict(color="rgba(30,50,30,0.55)", width=1.6, dash="2px,11px"),
                         hoverinfo="skip", showlegend=False, **AX_B))

# arrow heads carry the speed colour bar; angle is clockwise from up, and the axis runs downward
hx = [a[2] for a in arrows]
hy = [a[3] for a in arrows]
hv = [a[4] for a in arrows]
ha = [180 - math.degrees(math.atan2(a[2] - a[0], a[3] - a[1])) for a in arrows]
hs = [max(7, min(15, math.hypot(a[2] - a[0], a[3] - a[1]) * 0.16)) for a in arrows]
fig.add_trace(go.Scatter(x=hx, y=hy, mode="markers", hoverinfo="skip", showlegend=False,
                         marker=dict(symbol="arrow", size=hs, angle=ha, color=hv, coloraxis="coloraxis2",
                                     line=dict(color="rgba(40,40,40,0.7)", width=1)), **AX_B))

dots = crop_dots(CORE_DOTS, 2150, 380, 1.96, 2.24) + crop_dots(LOW_LEFT_DOTS, 1880, 850, 2.24, 2.85) + crop_dots(LOW_RIGHT_DOTS, 2700, 730, 3, 2.306)
fig.add_trace(go.Scatter(x=[d[0] for d in dots], y=[d[1] for d in dots], mode="markers", hoverinfo="skip", showlegend=False,
                         marker=dict(symbol="circle", size=2.6, color="#223333", line=dict(width=0)), **AX_B))
stars([LAT_X + LAT_PX * c for c in CYL_COL], [LAT_Y + LAT_PY * r for r in CYL_ROW], AX_B, 30, 13, 0.85)

LABEL = dict(family="Liberation Sans", size=45, color="#222222")
SERIF = dict(family="Liberation Serif", size=66, color="black")
notes = [("Pressure", 47, 74, "left", LABEL), ("[Pa]", 46, 975, "left", LABEL), ("Velocity", 1692, 71, "left", LABEL),
         ("[km/h]", 1692, 964, "left", LABEL), ("(<b>a</b>)", 823, 1526, "center", SERIF), ("(<b>b</b>)", 2467, 1526, "center", SERIF)]
for text, x, y, anchor, font in notes:
    fig.add_annotation(text=text, x=px_x(x), y=px_y(y), xref="paper", yref="paper", xanchor=anchor, yanchor="middle",
                       showarrow=False, font=font, xshift=0, borderpad=0, align=anchor)

FRAME = dict(showgrid=False, zeroline=False, showticklabels=False, ticks="", showline=True, mirror=True)
fig.update_layout(
    width=W, height=H, margin=dict(l=0, r=0, t=0, b=0), paper_bgcolor="white", plot_bgcolor="white", showlegend=False,
    xaxis=dict(domain=[px_x(245), px_x(1592)], range=FRAME_U, linecolor="#666666", linewidth=2, **FRAME),
    yaxis=dict(domain=[px_y(1391), px_y(37)], range=[FRAME_V[1], FRAME_V[0]], linecolor="#666666", linewidth=2, **FRAME),
    xaxis2=dict(domain=[px_x(1888), px_x(3174)], range=[1888, 3174], anchor="y2", linecolor="#555555", linewidth=3, **FRAME),
    yaxis2=dict(domain=[px_y(1382), px_y(45)], range=[1382, 45], anchor="x2", linecolor="#555555", linewidth=3, **FRAME),
    coloraxis=dict(cmin=-760, cmax=2772, colorscale=stepped, colorbar=dict(
        x=px_x(47), y=px_y(160.7), xanchor="left", yanchor="top", xpad=0, ypad=0, lenmode="pixels", len=755,
        thicknessmode="pixels", thickness=52, tickmode="array", tickvals=PRESSURE_TICKS, ticktext=[str(t) for t in PRESSURE_TICKS],
        ticks="outside", ticklen=12, tickwidth=2, tickcolor="#555555", outlinecolor="#777777", outlinewidth=2,
        tickfont=LABEL, borderwidth=0)),
    coloraxis2=dict(cmin=0, cmax=232, colorscale=JET, colorbar=dict(
        x=px_x(1692), y=px_y(158), xanchor="left", yanchor="top", xpad=0, ypad=0, lenmode="pixels", len=742,
        thicknessmode="pixels", thickness=53, tickmode="array", tickvals=SPEED_TICKS, ticktext=[str(t) for t in SPEED_TICKS],
        ticks="outside", ticklen=12, tickwidth=2, tickcolor="#555555", outlinecolor="#888888", outlinewidth=2,
        tickfont=LABEL, borderwidth=0)),
)

fig.write_html("out.html", config=dict(displayModeBar=False),
               post_script="document.body.style.margin='0';")
